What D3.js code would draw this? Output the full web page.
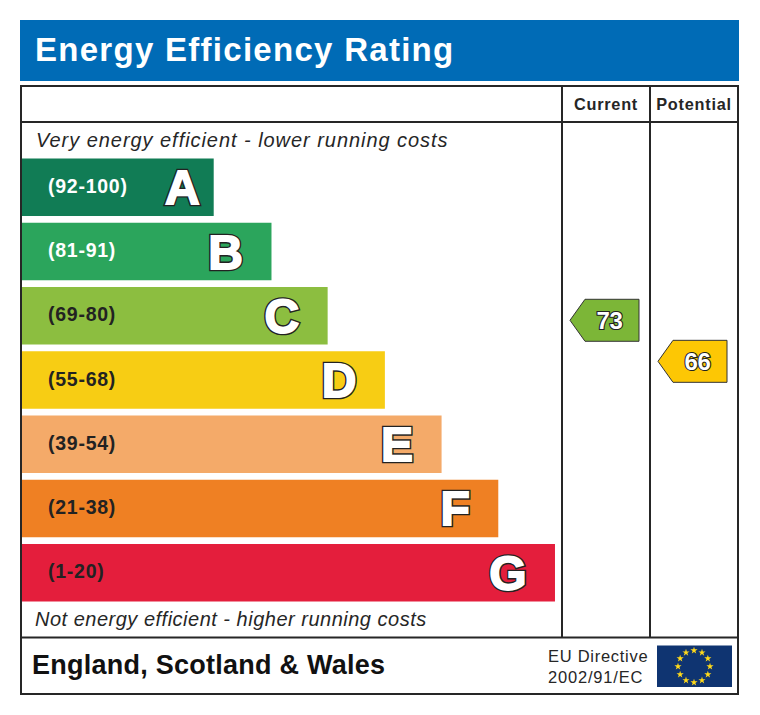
<!DOCTYPE html>
<html>
<head>
<meta charset="utf-8">
<style>
  html, body { margin: 0; padding: 0; background: #fff; }
  svg { display: block; }
  text { font-family: "Liberation Sans", Arial, sans-serif; }
</style>
</head>
<body>
<svg id="chart"></svg>
<script src="https://cdn.jsdelivr.net/npm/d3@7"></script>
<script>
var bands = ["A", "B", "C", "D", "E", "F", "G"];
var ranges = ["(92-100)", "(81-91)", "(69-80)", "(55-68)", "(39-54)", "(21-38)", "(1-20)"];
var lengths = [35.5, 46.2, 56.6, 67.2, 77.7, 88.2, 98.7];
var colors = ["#117c55", "#2ba55c", "#8cbe40", "#f7cd14", "#f4aa69", "#ef8023", "#e41e3c"];
var labelColors = ["#fff", "#fff", "#222", "#222", "#222", "#222", "#222"];
var ratingNames = ["Current", "Potential"];
var ratingValues = [73, 66];
var ratingColors = ["#7cb637", "#fdc704"];

var width = 760, height = 715;
var ink = "#262626";

var svg = d3.select("#chart").attr("width", width).attr("height", height);

var x = d3.scaleLinear().domain([0, 100]).range([22, 562]);
var y = d3.scaleBand().domain(bands).range([158.5, 601.5]).paddingInner(0.105);
var ratingY = d3.scaleLinear().domain([100, 20]).range([162, 631]);
var col = d3.scaleBand().domain(ratingNames).range([562, 738]);

// outlined text: dark layer under a fattened white layer
function outlined(sel, dark, light) {
    sel.attr("stroke-linejoin", "miter").attr("stroke-miterlimit", 3);
    sel.clone(true)
        .attr("fill", "#fff").attr("stroke", "#fff").attr("stroke-width", light);
    sel.attr("fill", "#222").attr("stroke", "#222").attr("stroke-width", dark);
}

// title bar
svg.append("rect").attr("x", 20).attr("y", 20).attr("width", 719).attr("height", 61).attr("fill", "#006bb6");
svg.append("text")
    .attr("x", 35).attr("y", 61)
    .attr("font-size", 33).attr("font-weight", "bold")
    .attr("letter-spacing", 1.28)
    .attr("fill", "#fff")
    .text("Energy Efficiency Rating");

// bars
var rows = bands.map((b, i) => ({ band: b, range: ranges[i], len: lengths[i], color: colors[i], label: labelColors[i], i: i }));

svg.selectAll("rect.bar")
    .data(rows)
    .enter()
    .append("rect")
    .attr("class", "bar")
    .attr("x", x(0))
    .attr("y", d => y(d.band))
    .attr("width", d => x(d.len) - x(0))
    .attr("height", y.bandwidth())
    .attr("fill", d => d.color);

svg.selectAll("text.range")
    .data(rows)
    .enter()
    .append("text")
    .attr("class", "range")
    .attr("x", 48)
    .attr("y", d => y(d.band) + y.bandwidth() / 2 + 5.5)
    .attr("font-size", 19.5).attr("font-weight", "bold")
    .attr("letter-spacing", 0.75)
    .attr("fill", d => d.label)
    .text(d => d.range);

svg.selectAll("text.letter")
    .data(rows)
    .enter()
    .append("text")
    .attr("class", "letter")
    .attr("x", d => x(d.len) - (d.i === 0 ? 14 : 28.5))
    .attr("y", d => y(d.band) + y.bandwidth() / 2 + 17)
    .attr("text-anchor", "end")
    .attr("font-size", 48).attr("font-weight", "bold")
    .text(d => d.band)
    .call(outlined, 4.6, 1.8);

// frame
var lines = svg.append("g").attr("stroke", ink).attr("stroke-width", 2).attr("fill", "none");
lines.append("rect").attr("x", 21).attr("y", 86).attr("width", 717).attr("height", 608);
lines.append("line").attr("x1", 21).attr("x2", 738).attr("y1", 122).attr("y2", 122);
lines.append("line").attr("x1", 21).attr("x2", 738).attr("y1", 637.5).attr("y2", 637.5);
lines.selectAll("line.col")
    .data(ratingNames)
    .enter()
    .append("line")
    .attr("class", "col")
    .attr("x1", d => col(d)).attr("x2", d => col(d))
    .attr("y1", 86).attr("y2", 637.5);

svg.selectAll("text.head")
    .data(ratingNames)
    .enter()
    .append("text")
    .attr("class", "head")
    .attr("x", d => col(d) + col.bandwidth() / 2)
    .attr("y", 109.5)
    .attr("text-anchor", "middle")
    .attr("font-size", 16.3).attr("font-weight", "bold")
    .attr("letter-spacing", 0.75)
    .attr("fill", ink)
    .text(d => d);

// captions
svg.append("text").attr("x", 36).attr("y", 147)
    .attr("font-size", 20).attr("font-style", "italic").attr("letter-spacing", 0.95).attr("fill", ink)
    .text("Very energy efficient - lower running costs");
svg.append("text").attr("x", 35).attr("y", 626)
    .attr("font-size", 20).attr("font-style", "italic").attr("letter-spacing", 0.5).attr("fill", ink)
    .text("Not energy efficient - higher running costs");

// rating arrows
var arrow = d3.line();
var ratings = svg.selectAll("g.rating")
    .data(ratingNames.map((n, i) => ({ name: n, value: ratingValues[i], color: ratingColors[i] })))
    .enter()
    .append("g")
    .attr("class", "rating")
    .attr("transform", d => "translate(" + col(d.name) + "," + ratingY(d.value) + ")");

ratings.append("path")
    .attr("d", arrow([[8, 0], [23, -21], [77, -21], [77, 21], [23, 21]]) + "Z")
    .attr("fill", d => d.color)
    .attr("stroke", "#333").attr("stroke-width", 1);

ratings.append("text")
    .attr("x", 47.5).attr("y", 9)
    .attr("text-anchor", "middle")
    .attr("font-family", "'DejaVu Sans', sans-serif")
    .attr("font-size", 24).attr("font-weight", "bold")
    .attr("letter-spacing", -0.4)
    .text(d => d.value)
    .each(function () { d3.select(this).call(outlined, 2.2, 0); });

// footer
svg.append("text").attr("x", 32).attr("y", 674)
    .attr("font-size", 27).attr("font-weight", "bold").attr("letter-spacing", 0.25).attr("fill", "#111")
    .text("England, Scotland & Wales");
svg.append("text").attr("x", 548).attr("y", 662)
    .attr("font-size", 16.5).attr("letter-spacing", 0.72).attr("fill", ink)
    .text("EU Directive");
svg.append("text").attr("x", 548).attr("y", 683)
    .attr("font-size", 16.5).attr("letter-spacing", 0.8).attr("fill", ink)
    .text("2002/91/EC");

// flag
svg.append("rect").attr("x", 657).attr("y", 645.5).attr("width", 75).attr("height", 41.5).attr("fill", "#0f3471");
var star = d3.symbol().type(d3.symbolStar).size(16);
svg.selectAll("path.star")
    .data(d3.range(12))
    .enter()
    .append("path")
    .attr("class", "star")
    .attr("d", star)
    .attr("fill", "#ffd91a")
    .attr("transform", d => "translate(" + (694 + 16 * Math.sin(d * Math.PI / 6)) + "," + (666.5 - 16 * Math.cos(d * Math.PI / 6)) + ")");
</script>
</body>
</html>
